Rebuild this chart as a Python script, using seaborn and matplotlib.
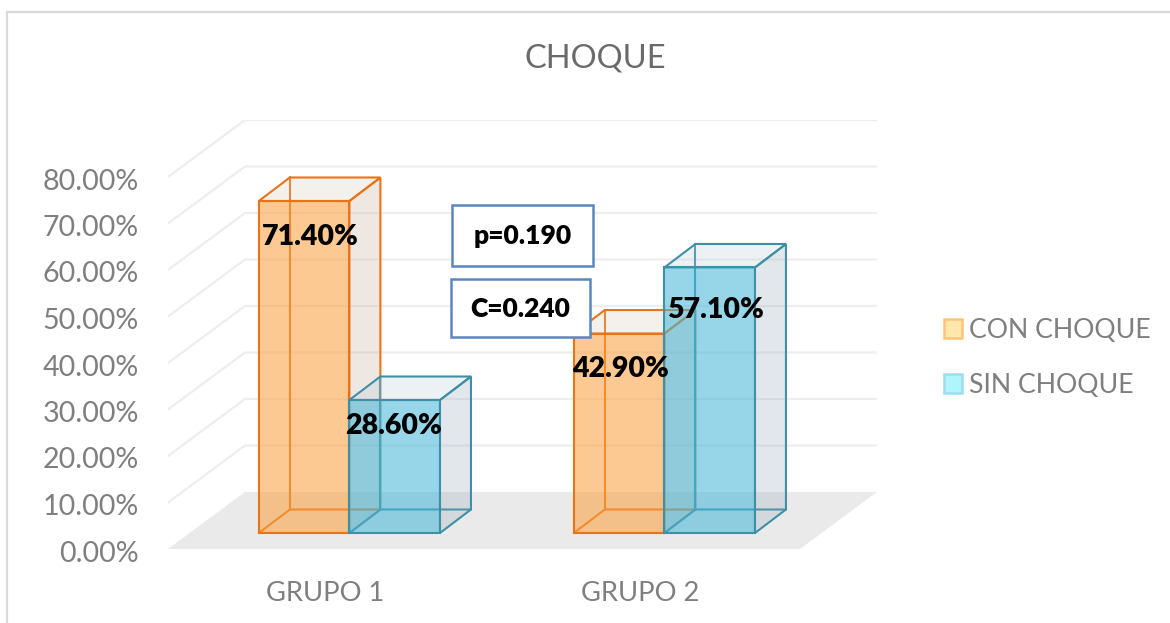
import pandas as pd
import matplotlib.pyplot as plt
import seaborn as sns
from matplotlib.colors import to_rgba
from matplotlib.patches import Patch, Polygon, Rectangle
from matplotlib.transforms import ScaledTranslation

# values
grupos = ['GRUPO 1', 'GRUPO 2']
con_choque = [71.40, 42.90]
sin_choque = [28.60, 57.10]
series_names = ['CON CHOQUE', 'SIN CHOQUE']
y_ticks = [0, 10, 20, 30, 40, 50, 60, 70, 80]

W, H = 1170, 623
PX_X = 315.0   # pixels per category
PX_Y = 4.65    # pixels per percent
X0, Y0 = 349.4, 533  # pixel of category 0 / value 0

df = pd.DataFrame({
    'grupo': grupos * 2,
    'serie': [series_names[0]] * 2 + [series_names[1]] * 2,
    'valor': con_choque + sin_choque,
})

sns.set_theme(style='white')
plt.rcParams['font.family'] = ['Lato', 'DejaVu Sans']
GRAY = '#7f7f7f'

fig = plt.figure(figsize=(W / 100, H / 100), dpi=100)
left, right, top, bottom = 168, 877, 120, 549
ax = fig.add_axes([left / W, 1 - bottom / H, (right - left) / W, (bottom - top) / H])

palette = {series_names[0]: '#FBA042', series_names[1]: '#48B7D7'}
edges = ['#EA7317', '#3F8FA6']
sides = [to_rgba('#C3A38F', 0.25), to_rgba('#8BA3AF', 0.25)]
tops = [to_rgba('#D7CBBB', 0.25), to_rgba('#B7CBD7', 0.25)]

sns.barplot(data=df, x='grupo', y='valor', hue='serie', order=grupos, hue_order=series_names,
            palette=palette, width=0.575, gap=0, saturation=1, legend=False, ax=ax)

ax.set_xlim((left - X0) / PX_X, (right - X0) / PX_X)
ax.set_ylim((Y0 - bottom) / PX_Y, (Y0 - top) / PX_Y)
ax.set_xlabel('')
ax.set_ylabel('')
ax.set_facecolor('none')
sns.despine(ax=ax, left=True, bottom=True, right=True, top=True)

# floor and back wall
fdx, fdy = 77 / PX_X, 57 / PX_Y
fx0, fx1, fy = ax.get_xlim()[0], ax.get_xlim()[1], ax.get_ylim()[0]
ax.add_patch(Polygon([(fx0, fy), (fx1 - fdx, fy), (fx1, fy + fdy), (fx0 + fdx, fy + fdy)],
                     facecolor='#EAEAEA', edgecolor='none', zorder=1))
for t in y_ticks[1:]:
    ax.plot([fx0, fx0 + fdx, fx1], [fy + t, fy + t + fdy, fy + t + fdy],
            color='#EEEEEE', lw=1.6, zorder=1.5, solid_joinstyle='miter')

# boxes round the bars
bdx, bdy = 31 / PX_X, 23.5 / PX_Y
label_nudge = [[(6, -36), (1, -35)], [(-1, -26), (6, -43)]]
for s, cont in enumerate(ax.containers):
    for g, bar in enumerate(cont):
        x0, x1, h = bar.get_x(), bar.get_x() + bar.get_width(), bar.get_height()
        base = 3 + s
        ax.plot([x0 + bdx, x0 + bdx], [bdy, h + bdy], color=edges[s], lw=1.5, zorder=base)
        ax.plot([x0, x0 + bdx, x1 + bdx], [0, bdy, bdy], color=edges[s], lw=1.5, zorder=base)
        ax.add_patch(Polygon([(x1, 0), (x1 + bdx, bdy), (x1 + bdx, h + bdy), (x1, h)],
                             facecolor=sides[s], edgecolor=edges[s], lw=1.5, zorder=base + 0.1))
        ax.add_patch(Polygon([(x0, h), (x1, h), (x1 + bdx, h + bdy), (x0 + bdx, h + bdy)],
                             facecolor=tops[s], edgecolor=edges[s], lw=1.5, zorder=base + 0.1))
        bar.set_facecolor(to_rgba(palette[series_names[s]], 0.57))
        bar.set_edgecolor(edges[s])
        bar.set_linewidth(1.5)
        bar.set_zorder(base + 0.2)
        nx, ny = label_nudge[s][g]
        ax.annotate(f'{h:.2f}%', ((x0 + x1) / 2, h), xytext=(nx, ny), textcoords='offset pixels',
                    ha='center', va='center', fontsize=20.5, fontweight='heavy', color='black', zorder=8)

# tick labels sit on the front edge of the floor
ax.set_yticks(y_ticks)
ax.set_yticklabels([f'{t:.2f}%' for t in y_ticks])
ax.tick_params(axis='y', length=0, pad=21, labelsize=20.6, labelcolor=GRAY)
ax.tick_params(axis='x', length=0, pad=23, labelsize=19.7, labelcolor=GRAY)
for lbl in ax.get_yticklabels():
    lbl.set_transform(lbl.get_transform() + ScaledTranslation(0, -18 / 100, fig.dpi_scale_trans))
for lbl in ax.get_xticklabels():
    lbl.set_transform(lbl.get_transform() + ScaledTranslation(-24 / 100, 0, fig.dpi_scale_trans))

fig.text(595 / W, 1 - 58 / H, 'CHOQUE', ha='center', va='center', fontsize=23.5, color='#6a6a6a')


def add_box(x0, x1, y0, y1, text):
    fig.add_artist(Rectangle((x0 / W, 1 - y1 / H), (x1 - x0) / W, (y1 - y0) / H, transform=fig.transFigure,
                             facecolor='white', edgecolor='#5B87C0', lw=1.8, zorder=5))
    fig.text((x0 + x1) / 2 / W, 1 - ((y0 + y1) / 2 + 1) / H, text, ha='center', va='center',
             fontsize=19, fontweight='heavy', color='black', zorder=6)


add_box(451.5, 593, 205, 266, 'p=0.190')
add_box(450.5, 590, 279, 337, 'C=0.240')

# outer frame, only its left and top edges fall inside the picture
fig.add_artist(Rectangle((7 / W, 1 - 640 / H), 1200 / W, 628 / H, transform=fig.transFigure,
                         facecolor='none', edgecolor='#D9D9D9', lw=1.6, zorder=0))

handles = [Patch(facecolor='#FFE8A9', edgecolor='#FFC47A', lw=1.8),
           Patch(facecolor='#B0F5FB', edgecolor='#9FDCEF', lw=1.8)]
fig.legend(handles, series_names, loc='upper left', bbox_to_anchor=(935.5 / W, 1 - 310 / H), frameon=False,
           fontsize=19.2, labelcolor=GRAY, handlelength=0.71, handleheight=0.71, handletextpad=0.25,
           labelspacing=1.12, borderpad=0.3, borderaxespad=0)

fig.savefig('out.png', dpi=100)
